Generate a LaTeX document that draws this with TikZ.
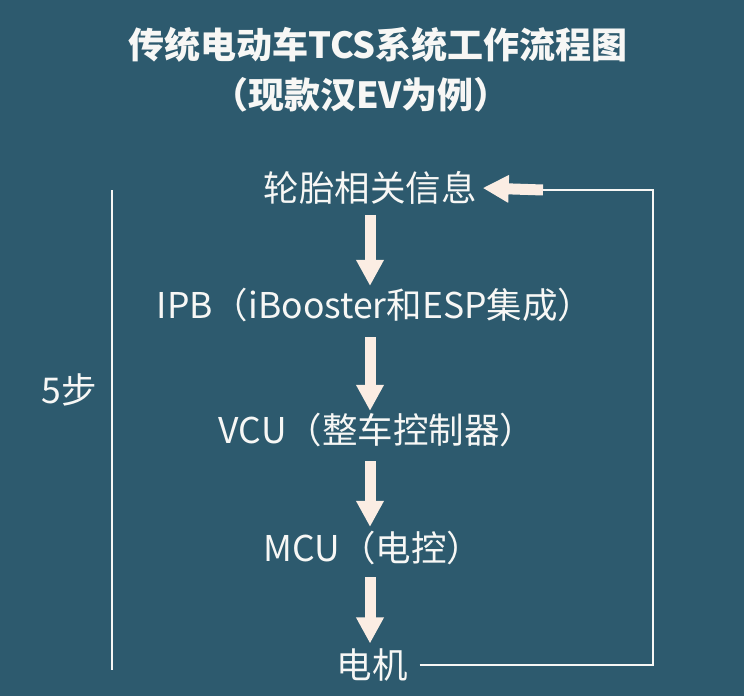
\documentclass[tikz,border=0pt]{standalone}
\usepackage{fontspec}
\setmainfont{Noto Sans CJK SC}
\usepackage{tikz}
\usetikzlibrary{arrows.meta,positioning}
\definecolor{SlateTeal}{HTML}{2D5A6E}
\definecolor{SoftWhite}{HTML}{F7F7F5}
\definecolor{Cream}{HTML}{FBEDE3}

\begin{document}
\begin{tikzpicture}[
  x=1pt,y=-1pt,
  every node/.style={text=SoftWhite,inner sep=0pt,anchor=center},
  title/.style={font=\fontsize{36}{42}\selectfont\bfseries},
  stage/.style={font=\fontsize{35.5}{42}\selectfont},
  block/.style={-{Triangle[length=26pt,width=26pt]},line width=11pt,color=Cream},
  thin/.style={line width=1.6pt,color=SoftWhite}
]
\fill[SlateTeal] (0,0) rectangle (744,696);
\useasboundingbox (0,0) rectangle (744,696);
\node[title] (head) at (378,45) {传统电动车TCS系统工作流程图};
\node[title] (sub) at (361,95) {（现款汉EV为例）};
\node[stage] (tire) at (370,188) {轮胎相关信息};
\node[stage] (ipb) at (375,305) {IPB（iBooster和ESP集成）};
\node[stage] (vcu) at (377,430) {VCU（整车控制器）};
\node[stage] (mcu) at (373,548) {MCU（电控）};
\node[stage] (motor) at (372,665) {电机};
\node[stage] (steps) at (69,390) {5步};
\coordinate (steptop) at (112,190);
\coordinate (stepbot) at (112,670);
\coordinate (loop) at (653,190);
\coordinate (fb) at (543,190);
\draw[thin] (steptop)--(stepbot);
\draw[thin] (motor.east)++(12,0) -| (loop) -- (fb);
\draw[block] (fb)--([xshift=6pt]tire.east);
\draw[block,shorten <=10pt,shorten >=2pt] (tire.south)--(tire.south |- ipb.north);
\draw[block,shorten <=15pt,shorten >=2pt] (tire.south |- ipb.south)--(tire.south |- vcu.north);
\draw[block,shorten <=14pt,shorten >=4pt] (tire.south |- vcu.south)--(tire.south |- mcu.north);
\draw[block,shorten <=12pt,shorten >=5pt] (tire.south |- mcu.south)--(tire.south |- motor.north);
\end{tikzpicture}
\end{document}
